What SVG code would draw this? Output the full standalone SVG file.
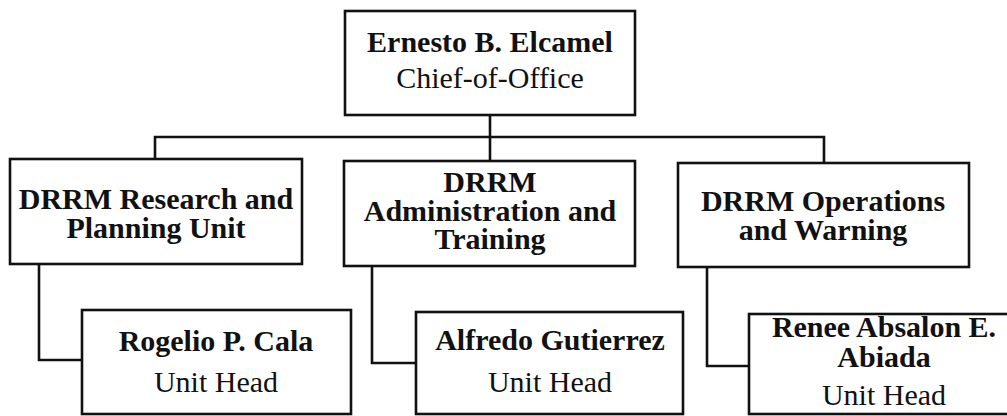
<svg xmlns="http://www.w3.org/2000/svg" width="1007" height="416" viewBox="0 0 1007 416">
<style>
.box{fill:#fff;stroke:#111;stroke-width:2.6}
.ln{fill:none;stroke:#111;stroke-width:2.6}
.b{font-family:"Liberation Serif","Times New Roman",serif;font-weight:bold;font-size:30px;fill:#111;text-anchor:middle}
.r{font-family:"Liberation Serif","Times New Roman",serif;font-size:30px;fill:#111;text-anchor:middle}
</style>
<rect width="1007" height="416" fill="#fff"/>
<g id="connectors">
<path class="ln" d="M490 115 V137"/>
<path class="ln" d="M155 159 V137 H824 V163"/>
<path class="ln" d="M490 137 V161"/>
<path class="ln" d="M39 264 V360 H82"/>
<path class="ln" d="M372 266 V363 H416"/>
<path class="ln" d="M707 267 V366 H749"/>
</g>
<g id="chief">
<rect class="box" x="345" y="11" width="290" height="104"/>
<text class="b" x="490" y="52">Ernesto B. Elcamel</text>
<text class="r" x="490" y="88">Chief-of-Office</text>
</g>
<g id="research">
<rect class="box" x="10" y="159" width="292" height="105"/>
<text class="b" x="156" y="209"><tspan x="156">DRRM Research and</tspan><tspan x="156" dy="28.5">Planning Unit</tspan></text>
</g>
<g id="admin">
<rect class="box" x="344" y="161" width="291" height="105"/>
<text class="b" x="490" y="192"><tspan x="490">DRRM</tspan><tspan x="490" dy="28.5">Administration and</tspan><tspan x="490" dy="28">Training</tspan></text>
</g>
<g id="operations">
<rect class="box" x="678" y="163" width="291" height="104"/>
<text class="b" x="823" y="211"><tspan x="823">DRRM Operations</tspan><tspan x="823" dy="28.5">and Warning</tspan></text>
</g>
<g id="rogelio">
<rect class="box" x="82" y="310" width="269" height="104"/>
<text class="b" x="216" y="351">Rogelio P. Cala</text>
<text class="r" x="216" y="392">Unit Head</text>
</g>
<g id="alfredo">
<rect class="box" x="416" y="312" width="267" height="102"/>
<text class="b" x="550" y="350">Alfredo Gutierrez</text>
<text class="r" x="550" y="392">Unit Head</text>
</g>
<g id="renee">
<rect class="box" x="749" y="314" width="280" height="100"/>
<text class="b" x="884" y="337"><tspan x="884">Renee Absalon E.</tspan><tspan x="884" dy="30">Abiada</tspan></text>
<text class="r" x="884" y="405">Unit Head</text>
</g>
</svg>
